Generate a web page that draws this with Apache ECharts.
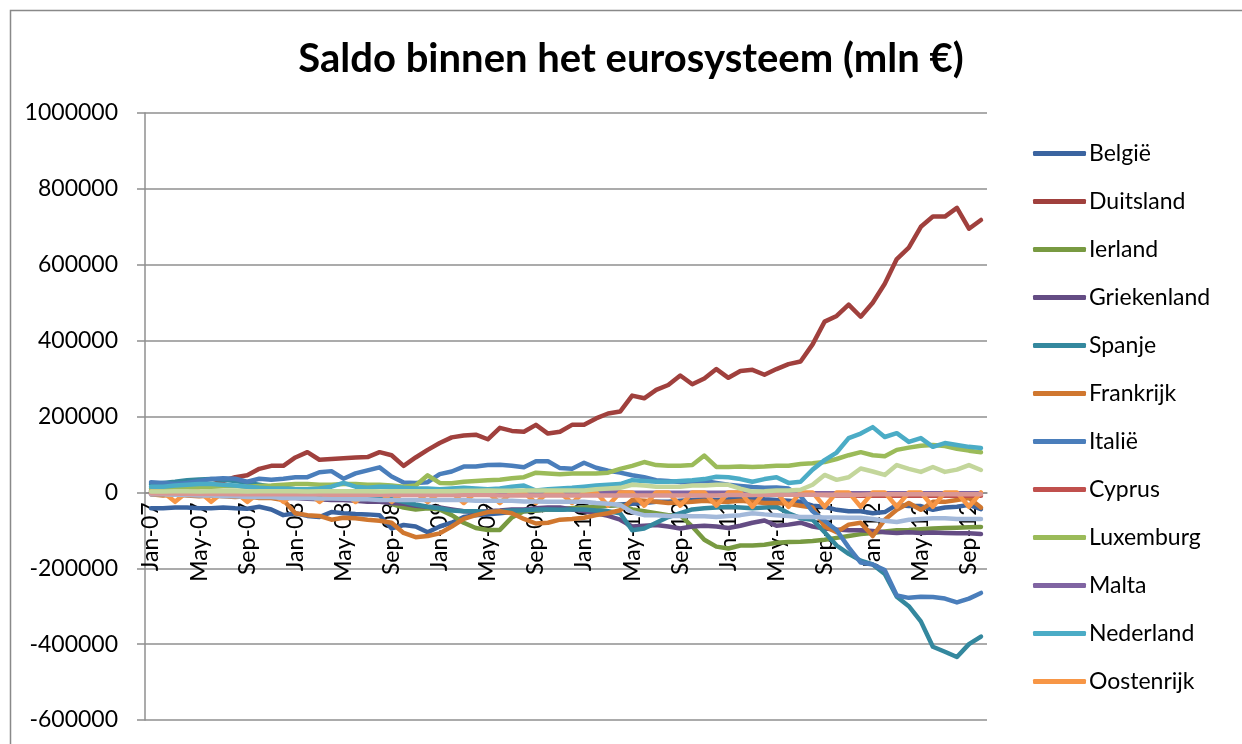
<!DOCTYPE html>
<html>
<head>
<meta charset="utf-8">
<script src="https://cdn.jsdelivr.net/npm/echarts@6/dist/echarts.min.js"></script>
<style>
html,body{margin:0;padding:0;background:#fff;}
#chart{width:1242px;height:744px;}
</style>
</head>
<body>
<div id="chart"></div>
<script>
// Categories: Jan-07 .. Oct-12
const monthNames = ['Jan','Feb','Mar','Apr','May','Jun','Jul','Aug','Sep','Oct','Nov','Dec'];
const years = ['07','08','09','10','11','12'];
const categories = [];
years.forEach(y => monthNames.forEach(m => categories.push(m + '-' + y)));
categories.splice(70);

const yTicks = { min: -600000, max: 1000000, interval: 200000 };

const belgie = [-42000,-42000,-40000,-40000,-42000,-42000,-40000,-42000,-43000,-38000,-45000,-60000,
 -55000,-62000,-65000,-52000,-55000,-57000,-58000,-60000,-95000,-86000,-90000,-105000,
 -90000,-80000,-65000,-60000,-58000,-55000,-52000,-50000,-48000,-45000,-45000,-42000,
 -40000,-38000,-35000,-32000,-30000,-28000,-25000,-25000,-22000,-20000,-18000,-20000,
 -18000,-15000,-15000,-18000,-20000,-22000,-25000,-35000,-38000,-46000,-50000,-50000,
 -55000,-52000,-33000,-36000,-36000,-46000,-40000,-38000,-33000,-44000];
const duitsland = [5000,8000,10000,12000,15000,20000,30000,40000,45000,62000,70000,70000,
 92000,106000,86000,88000,90000,92000,93000,106000,98000,70000,92000,112000,
 130000,145000,150000,152000,140000,170000,162000,160000,178000,155000,160000,178000,
 178000,195000,208000,213000,255000,248000,270000,283000,308000,285000,300000,325000,
 302000,320000,323000,310000,325000,338000,345000,390000,450000,465000,495000,463000,
 500000,550000,615000,645000,700000,727000,727000,750000,695000,718000];
const ierland = [-2000,-3000,-3000,-2000,-4000,-3000,-5000,-5000,-3000,-5000,-5000,-8000,
 -10000,-8000,-12000,-10000,-12000,-15000,-15000,-20000,-30000,-40000,-45000,-42000,
 -45000,-60000,-80000,-94000,-99000,-99000,-66000,-50000,-48000,-45000,-45000,-42000,
 -40000,-38000,-35000,-33000,-45000,-50000,-55000,-60000,-60000,-90000,-125000,-143000,
 -148000,-140000,-140000,-138000,-133000,-131000,-130000,-128000,-125000,-120000,-115000,-110000,
 -107000,-103000,-100000,-99000,-97000,-95000,-94000,-93000,-92000,-91000];
const griekenland = [-5000,-5000,-6000,-6000,-7000,-8000,-8000,-10000,-10000,-12000,-12000,-15000,
 -15000,-17000,-18000,-20000,-20000,-22000,-25000,-25000,-28000,-30000,-35000,-38000,
 -40000,-45000,-50000,-52000,-50000,-48000,-45000,-45000,-42000,-40000,-40000,-45000,
 -50000,-55000,-62000,-72000,-90000,-88000,-86000,-90000,-95000,-90000,-88000,-90000,
 -94000,-88000,-80000,-74000,-88000,-85000,-80000,-90000,-95000,-98000,-100000,-100000,
 -102000,-105000,-107000,-105000,-107000,-106000,-107000,-108000,-108000,-110000];
const spanje = [22000,25000,28000,32000,34000,35000,33000,30000,25000,20000,15000,12000,
 8000,5000,3000,0,-3000,-5000,-8000,-12000,-18000,-25000,-32000,-38000,
 -42000,-48000,-50000,-50000,-52000,-50000,-48000,-47000,-45000,-45000,-46000,-45000,
 -45000,-48000,-50000,-55000,-100000,-95000,-80000,-65000,-55000,-45000,-42000,-40000,
 -38000,-40000,-42000,-40000,-38000,-55000,-68000,-72000,-105000,-140000,-162000,-180000,
 -190000,-215000,-275000,-300000,-340000,-407000,-420000,-434000,-400000,-380000];
const frankrijk = [-5000,-8000,-5000,-8000,-10000,-8000,-10000,-12000,-10000,-15000,-15000,-20000,
 -55000,-60000,-62000,-72000,-67000,-68000,-72000,-75000,-80000,-107000,-118000,-115000,
 -108000,-90000,-70000,-60000,-52000,-50000,-55000,-70000,-82000,-80000,-72000,-70000,
 -67000,-60000,-55000,-47000,-20000,-22000,-25000,-28000,-27000,-25000,-22000,-25000,
 -25000,-22000,-25000,-28000,-28000,-30000,-35000,-40000,-90000,-105000,-85000,-80000,
 -115000,-72000,-46000,-28000,-46000,-25000,-25000,-20000,-15000,-40000];
const italie = [27000,25000,22000,25000,30000,35000,37000,36000,28000,36000,33000,36000,
 40000,40000,53000,56000,36000,50000,58000,66000,42000,26000,25000,27000,
 48000,55000,68000,68000,72000,73000,70000,66000,82000,82000,64000,62000,
 78000,65000,57000,52000,45000,40000,32000,30000,27000,28000,30000,25000,
 20000,17000,14000,12000,13000,10000,-10000,-50000,-75000,-100000,-145000,-185000,
 -190000,-205000,-272000,-278000,-275000,-276000,-280000,-290000,-280000,-265000];
const cyprus = [1000,1000,1000,1000,1000,1000,1000,1000,1000,1000,0,0,
 0,0,0,0,0,0,0,0,-1000,-1000,-1000,-1000,
 -1000,-1000,-1000,-1000,-1000,-1000,-1000,-1000,-1000,-1000,-1000,-1000,
 -1000,-1000,-1000,-1000,-2000,-2000,-2000,-2000,-2000,-2000,-2000,-2000,
 -2000,-3000,-3000,-3000,-4000,-4000,-5000,-6000,-7000,-8000,-8000,-9000,
 -9000,-9000,-9000,-9000,-9000,-9000,-9000,-9000,-9000,-9000];
const luxemburg = [10000,12000,12000,14000,15000,15000,16000,17000,15000,17000,18000,20000,
 22000,22000,20000,20000,22000,22000,20000,20000,18000,15000,18000,45000,
 25000,24000,28000,30000,32000,33000,37000,40000,52000,50000,48000,50000,
 50000,50000,52000,62000,70000,80000,72000,70000,70000,72000,97000,67000,
 67000,68000,67000,68000,70000,70000,75000,77000,80000,88000,98000,106000,
 98000,95000,112000,118000,123000,125000,122000,115000,110000,106000];
const malta = [0,0,0,0,0,0,0,0,0,0,0,0,
 0,0,0,0,0,0,-1000,-1000,-1000,-1000,-1000,-1000,
 -1000,-1000,-1000,-1000,-1000,-1000,-1000,-1000,-1000,-1000,-1000,-1000,
 -1000,-1000,-1000,-1000,-1000,-1000,-1000,-1000,-1000,-1000,-1000,-1000,
 -1000,-1000,-1000,-1000,-1000,-1000,-2000,-2000,-2000,-2000,-2000,-2000,
 -2000,-2000,-2000,-2000,-2000,-2000,-2000,-2000,-2000,-2000];
const nederland = [15000,15000,18000,20000,22000,22000,20000,18000,15000,12000,10000,10000,
 8000,8000,10000,15000,25000,15000,12000,15000,15000,12000,10000,10000,
 8000,10000,12000,10000,8000,10000,15000,18000,5000,8000,10000,12000,
 15000,18000,20000,22000,32000,30000,28000,28000,30000,32000,35000,41000,
 40000,35000,28000,35000,40000,25000,28000,60000,85000,105000,143000,155000,
 172000,146000,156000,133000,143000,120000,130000,125000,120000,117000];
const oostenrijk = [2000,1000,-25000,1000,2000,-25000,1000,1000,-25000,0,1000,-25000,
 0,1000,-25000,0,0,-25000,0,1000,-25000,0,0,-25000,
 0,0,-28000,0,0,-28000,0,0,-28000,0,0,-28000,
 0,0,-35000,0,0,-35000,0,0,-35000,0,0,-35000,
 0,0,-38000,0,0,-38000,0,0,-38000,0,0,-38000,
 0,0,-38000,0,0,-38000,0,0,-38000,0];
const portugal = [-5000,-5000,-6000,-7000,-8000,-8000,-10000,-10000,-12000,-12000,-12000,-15000,
 -15000,-15000,-16000,-16000,-17000,-18000,-18000,-20000,-20000,-20000,-20000,-20000,
 -20000,-20000,-20000,-22000,-22000,-22000,-22000,-24000,-24000,-25000,-25000,-25000,
 -25000,-28000,-30000,-33000,-52000,-60000,-60000,-62000,-62000,-63000,-63000,-65000,
 -62000,-60000,-55000,-58000,-60000,-62000,-65000,-65000,-66000,-66000,-67000,-67000,
 -70000,-75000,-78000,-72000,-70000,-68000,-68000,-70000,-70000,-70000];
const slovenie = [-3000,-3000,-3000,-4000,-4000,-4000,-4000,-5000,-5000,-5000,-5000,-5000,
 -5000,-5000,-5000,-6000,-6000,-6000,-6000,-6000,-6000,-7000,-7000,-7000,
 -7000,-7000,-7000,-7000,-7000,-8000,-8000,-8000,-8000,-8000,-8000,-8000,
 -8000,-8000,-8000,-8000,-8000,-8000,-8000,-8000,-8000,-8000,-8000,-8000,
 -7000,-7000,-7000,-6000,-6000,-6000,-6000,-6000,-6000,-6000,-6000,-6000,
 -5000,-5000,-5000,-5000,-5000,-5000,-5000,-5000,-5000,-5000];
const finland = [2000,2000,3000,3000,2000,3000,3000,3000,2000,3000,3000,3000,
 3000,2000,3000,3000,3000,3000,3000,2000,3000,3000,3000,3000,
 3000,3000,4000,4000,5000,4000,4000,5000,5000,5000,5000,5000,
 5000,8000,10000,12000,20000,18000,15000,15000,15000,18000,18000,20000,
 20000,10000,2000,3000,5000,5000,7000,20000,46000,33000,40000,63000,
 55000,46000,72000,62000,54000,67000,54000,60000,72000,59000];

const seriesNames = ['België','Duitsland','Ierland','Griekenland','Spanje','Frankrijk','Italië','Cyprus','Luxemburg','Malta','Nederland','Oostenrijk','Portugal','Slovenië','Finland'];
const legendNames = seriesNames.slice(0, 12);
const seriesData = [belgie,duitsland,ierland,griekenland,spanje,frankrijk,italie,cyprus,luxemburg,malta,nederland,oostenrijk,portugal,slovenie,finland];
const seriesColors = ['#3B64A0','#A0403D','#789A41','#644C84','#34889E','#D0772F','#4A7EBB','#C0504D','#9BBB59','#8064A2','#4BACC6','#F79646','#A3B9DA','#D99694','#C3D69B'];

const FONT = 'Lato';
const chart = echarts.init(document.getElementById('chart'));
chart.setOption({
  animation: false,
  backgroundColor: '#ffffff',
  title: {
    text: 'Saldo binnen het eurosysteem (mln €)',
    left: 626,
    textAlign: 'center',
    top: 34,
    textStyle: { fontFamily: FONT, fontSize: 40, fontWeight: 'bold', color: '#000' }
  },
  graphic: [{
    type: 'rect', left: 8, top: 8, silent: true,
    shape: { x: 0, y: 0, width: 1400, height: 900 },
    style: { fill: 'none', stroke: '#898989', lineWidth: 1.5 }
  }],
  legend: {
    orient: 'vertical',
    left: 1028,
    top: 137,
    data: legendNames,
    icon: 'roundRect',
    itemWidth: 53,
    itemHeight: 5,
    itemGap: 25,
    textStyle: { fontFamily: FONT, fontSize: 23, color: '#000', lineHeight: 21, padding: [0,0,0,-2] }
  },
  grid: { left: 145, top: 113, right: 255, bottom: 24, containLabel: false, outerBoundsMode: 'none' },
  xAxis: {
    type: 'category',
    data: categories,
    boundaryGap: true,
    position: 'bottom',
    offset: -227.6,
    axisLine: { onZero: false, lineStyle: { color: '#8f8f8f', width: 1.5 } },
    axisTick: { show: false },
    axisLabel: { interval: 3, rotate: 90, margin: 10, fontFamily: FONT, fontSize: 23, color: '#000' }
  },
  yAxis: {
    type: 'value',
    min: yTicks.min, max: yTicks.max, interval: yTicks.interval,
    axisLine: { show: true, lineStyle: { color: '#8f8f8f', width: 1.5 } },
    axisTick: { show: true, length: 8, lineStyle: { color: '#8f8f8f', width: 1.5 } },
    splitLine: { show: true, lineStyle: { color: '#8f8f8f', width: 1.5 } },
    axisLabel: { margin: 27, fontFamily: FONT, fontSize: 23, color: '#000', formatter: v => String(v) }
  },
  series: seriesNames.map((n, i) => ({
    name: n,
    type: 'line',
    data: seriesData[i],
    showSymbol: false,
    symbol: 'none',
    color: seriesColors[i],
    lineStyle: { width: 4.5, color: seriesColors[i], join: 'round', cap: 'round' },
    z: 2
  }))
});
</script>
</body>
</html>
